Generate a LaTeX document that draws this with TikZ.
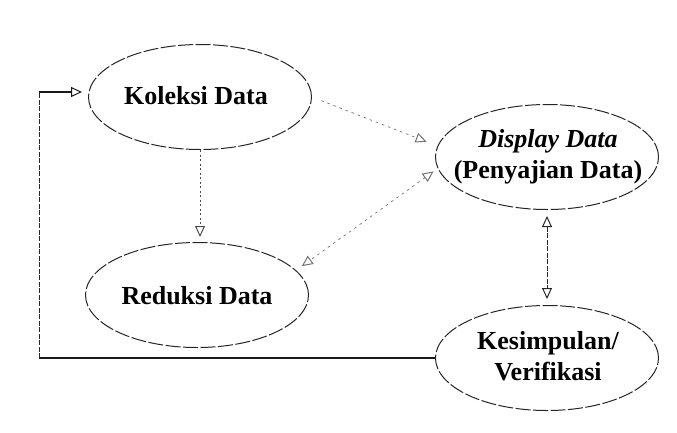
\documentclass[tikz,border=0pt]{standalone}
\usepackage{fontspec}
\setmainfont{Liberation Serif}
\usetikzlibrary{shapes.geometric,arrows.meta}
\begin{document}
\begin{tikzpicture}[x=1pt,y=-1pt,
  stage/.style={draw=black!85, shape=ellipse, line width=1pt,
    dash pattern=on 15pt off 2.5pt, minimum width=223pt, minimum height=105pt,
    inner sep=0pt},
  caption/.style={align=center, font=\fontsize{26}{31}\selectfont\bfseries},
  head/.tip={Triangle[open,length=11pt,width=10pt,line width=1pt]},
  tip/.style={-head},
  tips/.style={head-head},
  faint/.style={draw=black!55, line width=0.7pt, dash pattern=on 2.5pt off 4pt},
  dotted link/.style={draw=black!70, line width=0.7pt, dash pattern=on 2pt off 2.5pt},
  firm/.style={draw=black!85, line width=0.9pt, dash pattern=on 5pt off 1.5pt},
  loop/.style={draw=black!90, line width=1.1pt}]
\useasboundingbox (0,0) rectangle (677,432);

% the four stages
\node[stage] (kol) at (200,97) {};
\node[stage] (dis) at (547,157) {};
\node[stage] (red) at (197,295) {};
\node[stage] (kes) at (547,358) {};

\node[caption] (kolt) at (196,96) {Koleksi Data};
\node[caption] (dist) at (548,157) {\textit{Display Data}\\(Penyajian Data)};
\node[caption] (redt) at (197,296) {Reduksi Data};
\node[caption] (kest) at (548,356) {Kesimpulan/\\Verifikasi};

% links between the stages
\draw[faint, tip, shorten <=10pt, shorten >=9pt]
  (kol.east) -- ([yshift=12pt]dis.west);
\draw[dotted link, tip, shorten >=5pt]
  (kol.south) -- (kol.south |- red.north);
\draw[faint, tips, shorten <=5pt, shorten >=7pt]
  (dis.186) -- (red.14);
\draw[firm, tips, shorten <=6pt, shorten >=6pt]
  (dis.south) -- (kes.north);

% feedback loop from the conclusion back to data collection
\coordinate (bend) at (39,92);
\coordinate (corner) at (bend |- kes.west);
\draw[loop] (kes.west) -- (corner);
\draw[firm] (corner) -- (bend);
\draw[loop, tip, shorten >=6pt] (bend) -- (bend -| kol.west);
\end{tikzpicture}
\end{document}
